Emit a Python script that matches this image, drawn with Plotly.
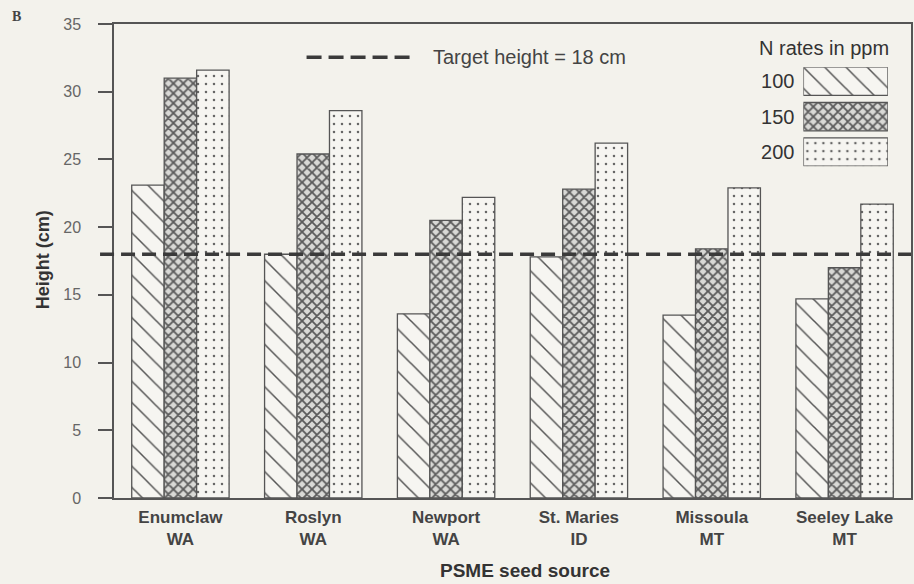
import plotly.graph_objects as go

# ---- data ----
sources = ["Enumclaw<br>WA", "Roslyn<br>WA", "Newport<br>WA", "St. Maries<br>ID", "Missoula<br>MT", "Seeley Lake<br>MT"]
n_rates = ["100", "150", "200"]
h_100 = [23.1, 18.0, 13.6, 17.8, 13.5, 14.7]
h_150 = [31.0, 25.4, 20.5, 22.8, 18.4, 17.0]
h_200 = [31.6, 28.6, 22.2, 26.2, 22.9, 21.7]
target = 18
y_ticks = [0, 5, 10, 15, 20, 25, 30, 35]

BG = "#f3f2ec"
EDGE = "#555555"
FONT = "Liberation Sans"

patterns = {
    "100": dict(shape="\\", size=15, solidity=0.1, fgcolor="#555555", bgcolor="#f6f5f1", fillmode="replace"),
    "150": dict(shape="x", size=7, solidity=0.45, fgcolor="#5a5a5a", bgcolor="#d9d9d6", fillmode="replace"),
    "200": dict(shape=".", size=8, solidity=0.08, fgcolor="#666666", bgcolor="#f6f5f1", fillmode="replace"),
}

fig = go.Figure()
for name, vals in zip(n_rates, [h_100, h_150, h_200]):
    fig.add_trace(go.Bar(
        x=sources, y=vals, name=name, showlegend=False,
        marker=dict(color="#f6f5f1", line=dict(color=EDGE, width=1.3), pattern=patterns[name]),
        xaxis="x", yaxis="y",
    ))

# legend swatches drawn as a small subplot
fig.add_trace(go.Bar(
    y=[0, 1, 2], x=[1, 1, 1], orientation="h", width=0.8, showlegend=False,
    marker=dict(
        color="#f6f5f1", line=dict(color=EDGE, width=1.3),
        pattern=dict(
            shape=[patterns[n]["shape"] for n in n_rates],
            size=[patterns[n]["size"] for n in n_rates],
            solidity=[patterns[n]["solidity"] for n in n_rates],
            fgcolor=[patterns[n]["fgcolor"] for n in n_rates],
            bgcolor=[patterns[n]["bgcolor"] for n in n_rates],
            fillmode="replace",
        ),
    ),
    xaxis="x2", yaxis="y2", hoverinfo="skip",
))

fig.update_layout(
    width=914, height=584,
    margin=dict(l=114, r=1, t=24, b=86),
    paper_bgcolor=BG, plot_bgcolor=BG,
    barmode="group", bargap=0.267, bargroupgap=0,
    font=dict(family=FONT, color="#333333"),
    xaxis=dict(
        showline=True, linecolor=EDGE, linewidth=1.5, mirror=True,
        ticks="", showgrid=False, zeroline=False,
        tickfont=dict(size=17, color="#444444", weight="bold"),
        ticklabelstandoff=3,
        range=[-0.5, 5.5],
    ),
    yaxis=dict(
        range=[0, 35], tickvals=y_ticks, ticks="outside", ticklen=14,
        tickcolor=EDGE, tickwidth=1.5,
        showline=True, linecolor=EDGE, linewidth=1.5, mirror=True,
        showgrid=False, zeroline=False,
        tickfont=dict(size=16, color="#666666"), ticklabelstandoff=14,
    ),
    xaxis2=dict(domain=[0.865, 0.971], range=[0, 1], visible=False, anchor="y2"),
    yaxis2=dict(
        domain=[0.700, 0.909], range=[2.4, -0.4], anchor="x2",
        tickvals=[0, 1, 2], ticktext=n_rates, ticks="", showline=False,
        showgrid=False, zeroline=False,
        tickfont=dict(size=20, color="#333333"), ticklabelstandoff=8,
    ),
)

# target height line
fig.add_shape(type="line", xref="paper", yref="y", x0=-0.0175, x1=1.0, y0=target, y1=target,
              line=dict(color="#3a3a3a", width=3.5, dash="14px,7px"), layer="above")
# legend for target line
fig.add_shape(type="line", xref="paper", yref="paper", x0=0.2416, x1=0.373, y0=0.930, y1=0.930,
              line=dict(color="#3a3a3a", width=3.5, dash="15px,7px"))
fig.add_annotation(text=f"Target height = {target} cm", xref="paper", yref="paper",
                   x=0.398, y=0.930, xanchor="left", yanchor="middle", showarrow=False,
                   font=dict(size=20, color="#444444"))
fig.add_annotation(text="N rates in ppm", xref="paper", yref="paper",
                   x=0.891, y=0.949, xanchor="center", yanchor="middle", showarrow=False,
                   font=dict(size=20, color="#333333"))
fig.add_annotation(text="Height (cm)", xref="paper", yref="paper", textangle=-90,
                   x=-0.0889, y=0.502, xanchor="center", yanchor="middle", showarrow=False,
                   font=dict(size=18, color="#333333", weight="bold"))
fig.add_annotation(text="PSME seed source", xref="paper", yref="paper",
                   x=0.516, y=-0.152, xanchor="center", yanchor="middle", showarrow=False,
                   font=dict(size=19, color="#333333", weight="bold"))
fig.add_annotation(text="B", xref="paper", yref="paper",
                   x=-0.1227, y=1.015, xanchor="center", yanchor="middle", showarrow=False,
                   font=dict(size=14, color="#444444", family="Liberation Serif", weight="bold"))

fig.write_html("out.html", config={"displayModeBar": False})

# remove the default page margin so the figure fills the window exactly
with open("out.html", encoding="utf-8") as f:
    html = f.read()
html = html.replace("<body>", '<body style="margin:0;overflow:hidden">', 1)
with open("out.html", "w", encoding="utf-8") as f:
    f.write(html)
